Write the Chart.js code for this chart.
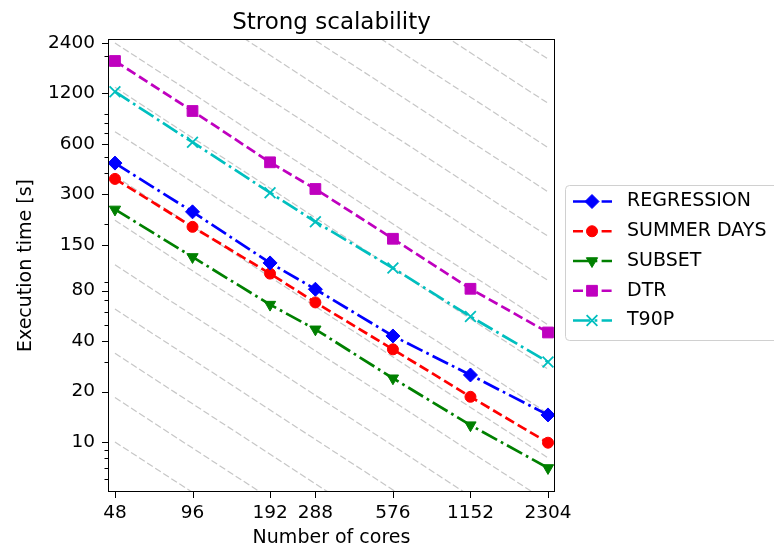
<!DOCTYPE html>
<html>
<head>
<meta charset="utf-8">
<script src="https://cdn.jsdelivr.net/npm/chart.js@4.4.1/dist/chart.umd.min.js"></script>
<style>
  html, body { margin: 0; padding: 0; background: #fff; }
  #wrap { width: 774px; height: 545px; }
</style>
</head>
<body>
<div id="wrap"><canvas id="scalChart" width="774" height="545"></canvas></div>
<script>
// number of cores (x) and execution times in seconds (y)
const cores = [48, 96, 192, 288, 576, 1152, 2304];
const regression = [461, 236, 117, 81.5, 42.9, 25.1, 14.5];
const summerDays = [371, 192, 101, 68, 35.7, 18.6, 9.9];
const subset = [244, 127, 66, 47, 24, 12.6, 7.0];
const dtr = [1874, 943, 466, 323, 163, 82, 45];
const t90p = [1230, 614, 307, 206, 109, 56, 30];

const yTickValues = [10, 20, 40, 80, 150, 300, 600, 1200, 2400];

// ideal-scaling guide lines: time at 48 cores, falling as 1/cores
const idealStart = [10, 18.4, 33.8, 62.1, 114, 210, 386, 710, 1305, 2400,
                    4411, 8108, 14904, 27394, 50352, 92553];

const FONT = "'DejaVu Sans', sans-serif";
const DASHED = [10, 4.3];
const DASHDOT = [17.3, 4.3, 2.7, 4.3];

const series = [
  { label: "REGRESSION", values: regression, color: "#0000ff", dash: DASHDOT, marker: "rectRot", radius: 7 },
  { label: "SUMMER DAYS", values: summerDays, color: "#ff0000", dash: DASHED, marker: "circle", radius: 5.5 },
  { label: "SUBSET", values: subset, color: "#008000", dash: DASHDOT, marker: "triangle", radius: 6.5, rotation: 180 },
  { label: "DTR", values: dtr, color: "#bf00bf", dash: DASHED, marker: "rect", radius: 7.6 },
  { label: "T90P", values: t90p, color: "#00bfbf", dash: DASHDOT, marker: "crossRot", radius: 7.6 }
];

function toPoints(values) {
  return cores.map((c, i) => ({ x: c, y: values[i] }));
}

const datasets = series.map(s => ({
  label: s.label,
  data: toPoints(s.values),
  borderColor: s.color,
  backgroundColor: s.color,
  borderWidth: 2.7,
  borderDash: s.dash,
  pointStyle: s.marker,
  pointRadius: s.radius,
  pointRotation: s.rotation || 0,
  pointBackgroundColor: s.color,
  pointBorderColor: s.color,
  pointBorderWidth: s.marker === "crossRot" ? 1.8 : 1,
  order: 0
}));

const first = cores[0], last = cores[cores.length - 1];
idealStart.forEach(v => {
  datasets.push({
    label: "ideal",
    data: [{ x: first, y: v }, { x: last, y: v * first / last }],
    borderColor: "rgba(128,128,128,0.45)",
    borderWidth: 1.2,
    borderDash: [6.7, 2.9],
    pointRadius: 0,
    order: 1
  });
});

const decorations = {
  id: "decorations",
  afterDraw(chart) {
    const { ctx, chartArea: a, scales: { x, y } } = chart;
    ctx.save();
    ctx.strokeStyle = "#000";
    ctx.lineWidth = 1;

    // frame
    ctx.strokeRect(a.left + 0.5, a.top + 0.5, a.right - a.left - 1, a.bottom - a.top - 1);

    // major tick marks
    ctx.beginPath();
    cores.forEach(c => {
      const px = Math.round(x.getPixelForValue(c)) + 0.5;
      ctx.moveTo(px, a.bottom);
      ctx.lineTo(px, a.bottom + 6);
    });
    yTickValues.forEach(v => {
      const py = Math.round(y.getPixelForValue(v)) + 0.5;
      ctx.moveTo(a.left - 6, py);
      ctx.lineTo(a.left, py);
    });
    ctx.stroke();

    // minor log ticks on y
    ctx.beginPath();
    for (let p = 1; p <= 1000; p *= 10) {
      for (let m = 2; m <= 9; m++) {
        const v = m * p;
        if (v < y.min || v > y.max || yTickValues.includes(v)) continue;
        const py = Math.round(y.getPixelForValue(v)) + 0.5;
        ctx.moveTo(a.left - 3.5, py);
        ctx.lineTo(a.left, py);
      }
    }
    ctx.stroke();

    // title
    ctx.fillStyle = "#000";
    ctx.font = "23px " + FONT;
    ctx.textAlign = "center";
    ctx.textBaseline = "middle";
    ctx.fillText("Strong scalability", (a.left + a.right) / 2, 22.8);

    // legend
    ctx.fillStyle = "rgba(255,255,255,0.8)";
    ctx.strokeStyle = "#d0d0d0";
    ctx.beginPath();
    ctx.roundRect(565.5, 185.5, 230, 155, 4);
    ctx.fill();
    ctx.stroke();

    series.forEach((s, i) => {
      const yy = 201.5 + i * 29.75;
      ctx.strokeStyle = s.color;
      ctx.lineWidth = 2.7;
      ctx.setLineDash(s.dash);
      ctx.beginPath();
      ctx.moveTo(573, yy);
      ctx.lineTo(612, yy);
      ctx.stroke();
      ctx.setLineDash([]);
      ctx.fillStyle = s.color;
      ctx.lineWidth = s.marker === "crossRot" ? 1.8 : 1;
      Chart.helpers.drawPoint(ctx, {
        pointStyle: s.marker, radius: s.radius, rotation: s.rotation || 0, borderWidth: 1
      }, 592, yy);
      ctx.fillStyle = "#000";
      ctx.font = "19px " + FONT;
      ctx.textAlign = "left";
      ctx.textBaseline = "middle";
      ctx.fillText(s.label, 627, yy);
    });
    ctx.restore();
  }
};

new Chart(document.getElementById("scalChart"), {
  type: "line",
  data: { datasets },
  options: {
    responsive: false,
    animation: false,
    devicePixelRatio: 1,
    layout: { padding: { top: 39, right: 219, bottom: 0, left: 0 } },
    plugins: { legend: { display: false }, tooltip: { enabled: false } },
    scales: {
      x: {
        type: "logarithmic",
        position: "bottom",
        min: 45.1,
        max: 2453,
        bounds: "data",
        grid: { display: false, drawTicks: false },
        border: { display: false },
        afterBuildTicks: scale => { scale.ticks = cores.map(v => ({ value: v })); },
        afterFit: scale => { scale.height = 53; },
        ticks: {
          autoSkip: false, maxRotation: 0, minRotation: 0, padding: 10,
          color: "#000", font: { family: FONT, size: 18.5 },
          callback: v => String(v)
        },
        title: {
          display: true, text: "Number of cores", color: "#000",
          font: { family: FONT, size: 19, lineHeight: 1 },
          padding: { top: 0, bottom: -2.3 }
        }
      },
      y: {
        type: "logarithmic",
        position: "left",
        min: 5.03,
        max: 2535,
        bounds: "data",
        grid: { display: false, drawTicks: false },
        border: { display: false },
        afterBuildTicks: scale => { scale.ticks = yTickValues.map(v => ({ value: v })); },
        afterFit: scale => { scale.width = 108; },
        ticks: {
          autoSkip: false, padding: 13,
          color: "#000", font: { family: FONT, size: 18.5 },
          callback: v => String(v)
        },
        title: {
          display: true, text: "Execution time [s]", color: "#000",
          font: { family: FONT, size: 19 },
          padding: { top: 15, bottom: 0 }
        }
      }
    }
  },
  plugins: [decorations]
});
</script>
</body>
</html>
